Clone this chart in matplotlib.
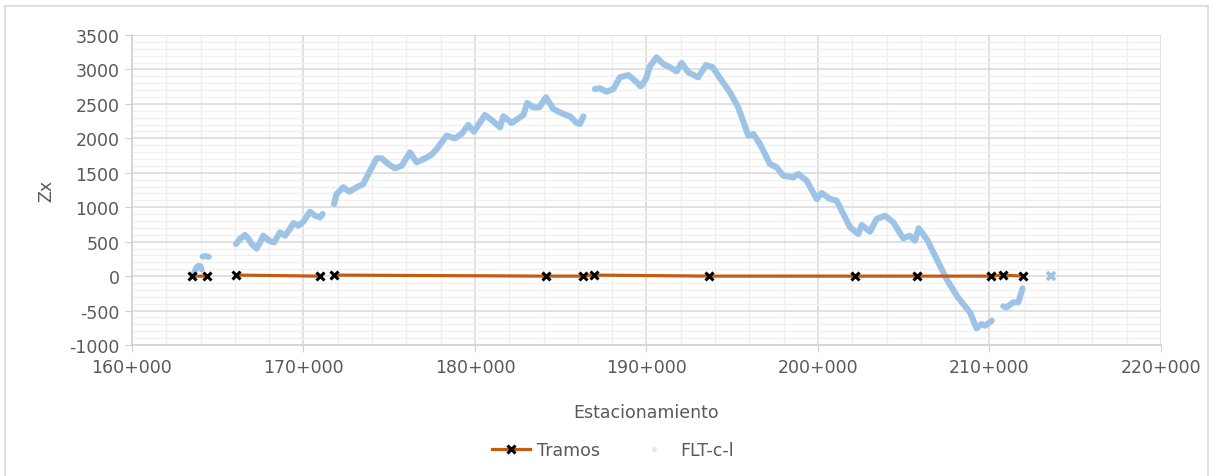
import matplotlib
matplotlib.use("Agg")
import matplotlib.pyplot as plt
import numpy as np
from matplotlib.lines import Line2D
from matplotlib.patches import Rectangle
from matplotlib.ticker import MultipleLocator, FuncFormatter

nan = np.nan

# Tramos (stations in m, Zx); nan breaks the line between tramos
tramos_est = [163500, 164370, nan, 166060, 170960, nan, 171780, 184140, 186300,
              186940, 193650, 202160, 205770, 210090, 210790, 211950]
tramos_zx = [0, 0, nan, 15, 0, nan, 15, 0, 0, 15, 0, 0, 0, 0, 15, 0]
fin_est = [213590]
fin_zx = [0]

# FLT-c-l curve, nan separates the pieces
flt_est = [163540, 163650, 163770, 163900, 164000, 164050, nan,
           164120, 164300, 164480, nan,
           166060, 166300, 166590, 166800, 166980, 167270, 167450, 167660, 168000,
           168280, 168630, 168920, 169200, 169410, 169700, 169990, 170380, 170670,
           170960, 171120, nan,
           171780, 171930, 172320, 172670, 173100, 173490, 173780, 174270, 174560,
           174950, 175340, 175730, 176210, 176600, 177090, 177450, 177770, 178350,
           178830, 179220, 179610, 179940, 180580, 180970, 181460, 181650, 182140,
           182820, 183050, 183400, 183750, 184140, 184570, 185150, 185540, 185930,
           186120, 186320, nan,
           186990, 187290, 187680, 188070, 188450, 188940, 189330, 189660, 189970,
           190200, 190590, 190980, 191370, 191760, 192050, 192440, 193020, 193470,
           193860, 194390, 194870, 195350, 195940, 196230, 196620, 197200, 197590,
           197980, 198560, 198850, 199340, 199930, 200220, 200700, 201090, 201870,
           202350, 202550, 203030, 203420, 203910, 204390, 204970, 205360, 205650,
           205870, 206340, 206920, 207500, 208090, 208470, 208860, 209250, 209540,
           209740, 210130, nan,
           210810, 211000, 211390, 211680, 211930]
flt_zx = [0, 60, 128, 150, 140, 100, nan,
          285, 290, 280, nan,
          466, 540, 597, 540, 466, 400, 480, 587, 514,
          490, 636, 587, 680, 771, 732, 790, 935, 877,
          853, 902, nan,
          1047, 1192, 1289, 1226, 1289, 1337, 1482, 1710, 1710,
          1627, 1565, 1603, 1797, 1652, 1710, 1760, 1845, 2038,
          2000, 2063, 2194, 2097, 2339, 2266, 2160, 2320, 2223,
          2339, 2513, 2450, 2450, 2596, 2426, 2353, 2320, 2223,
          2208, 2320, nan,
          2716, 2726, 2677, 2716, 2886, 2919, 2837, 2755, 2861,
          3046, 3176, 3079, 3031, 2973, 3094, 2958, 2886, 3065,
          3031, 2837, 2668, 2450, 2038, 2063, 1918, 1627, 1580,
          1457, 1433, 1482, 1385, 1120, 1207, 1120, 1095, 709,
          612, 742, 645, 829, 877, 781, 549, 587, 514,
          694, 539, 248, -42, -284, -405, -525, -758, -695,
          -720, -647, nan,
          -438, -453, -380, -380, -177]

blue = "#9DC3E6"
orange = "#C55A11"
txt = "#595959"

plt.rcParams["font.family"] = ["DejaVu Sans"]
plt.rcParams["axes.unicode_minus"] = False

fig = plt.figure(figsize=(12.13, 4.77), dpi=100)
ax = fig.add_axes([0.1088, 0.2746, 0.8483, 0.6499])

ax.plot(flt_est, flt_zx, color=blue, lw=4.4, solid_capstyle="round",
        solid_joinstyle="round", zorder=2)
ax.plot(tramos_est, tramos_zx, color=orange, lw=2.3, marker="x", ms=6,
        mec="black", mew=2.2, zorder=3)
ax.plot(fin_est, fin_zx, ls="none", marker="x", ms=6, mec=blue, mew=2.6, zorder=3)

ax.set_xlim(160000, 220000)
ax.set_ylim(-1000, 3500)
ax.xaxis.set_major_locator(MultipleLocator(10000))
ax.xaxis.set_minor_locator(MultipleLocator(2000))
ax.yaxis.set_major_locator(MultipleLocator(500))
ax.yaxis.set_minor_locator(MultipleLocator(100))
ax.xaxis.set_major_formatter(FuncFormatter(lambda v, p: f"{int(v // 1000)}+{int(v % 1000):03d}"))
ax.yaxis.set_major_formatter(FuncFormatter(lambda v, p: f"{int(v)}"))

ax.grid(True, which="major", color="#D9D9D9", lw=1.1, zorder=0)
ax.grid(True, which="minor", color="#F0F0F0", lw=1.0, zorder=0)
ax.set_axisbelow(True)
for side in ["top", "right"]:
    ax.spines[side].set_visible(False)
for side in ["left", "bottom"]:
    ax.spines[side].set_color("#D0D0D0")
    ax.spines[side].set_linewidth(1.1)
ax.tick_params(which="major", length=5, color="#D0D0D0", labelcolor=txt,
               labelsize=12.5, pad=4)
ax.tick_params(which="minor", length=0)

ax.set_xlabel("Estacionamiento", color=txt, fontsize=12.5, labelpad=20)
ax.set_ylabel("Zx", color=txt, fontsize=12.5, labelpad=10)

handles = [Line2D([], [], color=orange, lw=2.3, marker="x", ms=6, mec="black", mew=2.2),
           Line2D([], [], ls="none", marker="o", ms=2.5, mfc="#DDE8F3", mec="#DDE8F3")]
fig.legend(handles, ["Tramos", "FLT-c-l"], loc="center", bbox_to_anchor=(0.505, 0.055),
           ncol=2, frameon=False, fontsize=12.5, labelcolor=txt, handlelength=2.2,
           columnspacing=2.0, handletextpad=0.4)

fig.patches.append(Rectangle((5 / 1213, -0.05), 1203 / 1213, 1.05 - 7 / 477,
                             transform=fig.transFigure, fill=False,
                             edgecolor="#D9D9D9", lw=1.2))

fig.savefig("out.png", dpi=100)
